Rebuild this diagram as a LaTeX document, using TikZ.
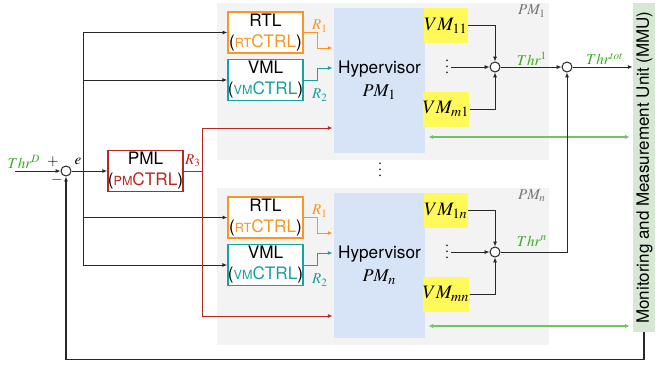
\RequirePackage{fix-cm}
\documentclass[tikz,border=0pt]{standalone}
\usepackage{mathptmx}
\usepackage{fontspec}
\setmainfont{Liberation Serif}
\setsansfont{TeX Gyre Heros}
\usepackage{xcolor}
\usepackage{tikz}
\usetikzlibrary{arrows.meta,calc,positioning}
\definecolor{ctrlorange}{RGB}{250,150,35}
\definecolor{ctrlteal}{RGB}{25,160,160}
\definecolor{ctrlred}{RGB}{185,40,30}
\definecolor{thrgreen}{RGB}{55,170,30}
\definecolor{hypblue}{RGB}{215,228,248}
\definecolor{panelgray}{RGB}{243,243,243}
\definecolor{vmyellow}{RGB}{255,250,90}
\definecolor{mmugreen}{RGB}{214,232,212}
\definecolor{wirec}{RGB}{40,40,40}
\newcommand{\smc}[1]{{\fontsize{6.3}{7}\selectfont #1}}
\newcommand{\vdts}{\vbox{\baselineskip3pt\lineskiplimit0pt\hbox{.}\hbox{.}\hbox{.}}}

\begin{document}
\begin{tikzpicture}[x=0.5pt,y=-0.5pt,
		ctrlbox/.style={draw,line width=0.65pt,fill=white,minimum width=37.5pt,minimum height=20.5pt,
			inner sep=0pt,align=center,font=\sffamily\fontsize{8.6}{10.5}\selectfont},
		wire/.style={-{Latex[length=2.4pt,width=2pt]},wirec,line width=0.5pt},
		sumnode/.style={circle,draw=wirec,fill=white,minimum size=5pt,inner sep=0pt,line width=0.5pt},
		lbl/.style={inner sep=0pt,font=\fontsize{7.5}{9}\selectfont},
		vmbox/.style={fill=vmyellow,minimum width=21pt,minimum height=17.5pt,inner sep=0pt,
			font=\fontsize{9.5}{11}\selectfont},
		dotsnode/.style={inner sep=0pt,font=\fontsize{7}{8}\selectfont},
		measlink/.style={{Latex[length=2.4pt,width=2.2pt]}-{Latex[length=2.4pt,width=2.2pt]},
			thrgreen!70,line width=0.8pt}]
	\useasboundingbox (0,0) rectangle (672,364);
	
	% Monitoring unit on the right.
	\node[fill=mmugreen,minimum width=11pt,minimum height=164.5pt,inner sep=0pt] (mmu) at (644,167.5) {};
	\node[rotate=90,inner sep=0pt,font=\sffamily\fontsize{8.5}{10}\selectfont] (mmutext) at (644.5,167.5)
	{Monitoring and Measurement Unit (MMU)};
	
	% One panel per physical machine.
	\foreach \i/\dy/\vt/\vb/\gy in {1/0/11/m1/137, n/185/1n/mn/326}{
		\fill[panelgray] (217,3+\dy) rectangle (549,160+\dy);
		\node[fill=hypblue,minimum width=45.5pt,minimum height=72.5pt,inner sep=0pt,align=center,
		font=\sffamily\fontsize{8.6}{10.5}\selectfont] (hyp\i) at (379.5,80.5+\dy)
		{Hypervisor\\[1pt]{\fontsize{9}{10}\selectfont$PM_\i$}};
		\node[ctrlbox,draw=ctrlorange] (rtl\i) at (265.5,32.5+\dy)
		{RTL\\(\textcolor{ctrlorange}{\smc{RT}CTRL})};
		\node[ctrlbox,draw=ctrlteal] (vml\i) at (265.5,80+\dy)
		{VML\\(\textcolor{ctrlteal}{\smc{VM}CTRL})};
		\node[vmbox] (vmt\i) at (446,25.5+\dy) {$VM_{\vt}$};
		\node[vmbox] (vmb\i) at (446,109+\dy) {$VM_{\vb}$};
		\node[sumnode] (sum\i) at (495,67+\dy) {};
		\node[dotsnode] (dots\i) at (447,67+\dy) {\vdts};
		\node[lbl,text=black!55] at (532,11+\dy) {$PM_\i$};
		
		\draw[wire,ctrlorange] (rtl\i.east) -- ++(14,0) |- ($(hyp\i.west)+(-1,-32.5)$);
		\draw[wire,ctrlteal] (vml\i.east) -- ++(14,0) |- ($(hyp\i.west)+(-1,-12.5)$);
		\node[lbl,text=ctrlorange] at (320,26+\dy) {$R_1$};
		\node[lbl,text=ctrlteal] at (320,95+\dy) {$R_2$};
		
		\draw[wire] (vmt\i.east) -| (sum\i.north);
		\draw[wire] (vmb\i.east) -| (sum\i.south);
		\draw[wire] ([xshift=1pt]dots\i.east) -- (sum\i.west);
		\draw[measlink] ([xshift=1.5pt]hyp\i.east |- 0,\gy) -- ([xshift=-1.5pt]mmu.west |- 0,\gy);
	}
	\node[dotsnode] (pmdots) at (380,170) {\vdts};
	
	% Throughput of all PMs goes to the MMU.
	\node[sumnode] (sumtot) at (567,67) {};
	\draw[wire] (sum1.east) -- (sumtot.west);
	\draw[wire] (sumn.east) -| (sumtot.south);
	\draw[wire] (sumtot.east) -- (sumtot -| mmu.west);
	\node[lbl,text=thrgreen] at (532,59) {$Thr^1$};
	\node[lbl,text=thrgreen] at (532,241) {$Thr^n$};
	\node[lbl,text=thrgreen] at (605,59) {$Thr^{tot}$};
	
	% Error and PML.
	\node[sumnode] (sum0) at (66,171) {};
	\coordinate (thrin) at (15,171);
	\draw[wire] (thrin) -- (sum0.west);
	\node[lbl,text=thrgreen] at (24,162) {$Thr^D$};
	\node[lbl] at (53,162) {$+$};
	\node[lbl] at (57,180) {$-$};
	\node[lbl] at (78,161) {$e$};
	\node[ctrlbox,draw=ctrlred] (pml) at (145.5,171) {PML\\(\textcolor{ctrlred}{\smc{PM}CTRL})};
	\draw[wire] (sum0.east) -- (pml.west);
	
	\coordinate (bus) at (83,171);
	\draw[wire] (bus) |- (rtl1.west);
	\draw[wire] (bus) |- (vml1.west);
	\draw[wire] (bus) |- (rtln.west);
	\draw[wire] (bus) |- (vmln.west);
	
	\coordinate (rsplit) at (202,171);
	\draw[ctrlred,line width=0.5pt] (pml.east) -- (rsplit);
	\draw[wire,ctrlred] (rsplit) |- ($(hyp1.west)+(-1,47.5)$);
	\draw[wire,ctrlred] (rsplit) |- ($(hypn.west)+(-1,50.5)$);
	\node[lbl,text=ctrlred] at (193,161) {$R_3$};
	
	% Feedback from the MMU.
	\draw[wire,line width=0.6pt] (mmu.south) -- ++(0,27) -| (sum0.south);
\end{tikzpicture}
\end{document}
